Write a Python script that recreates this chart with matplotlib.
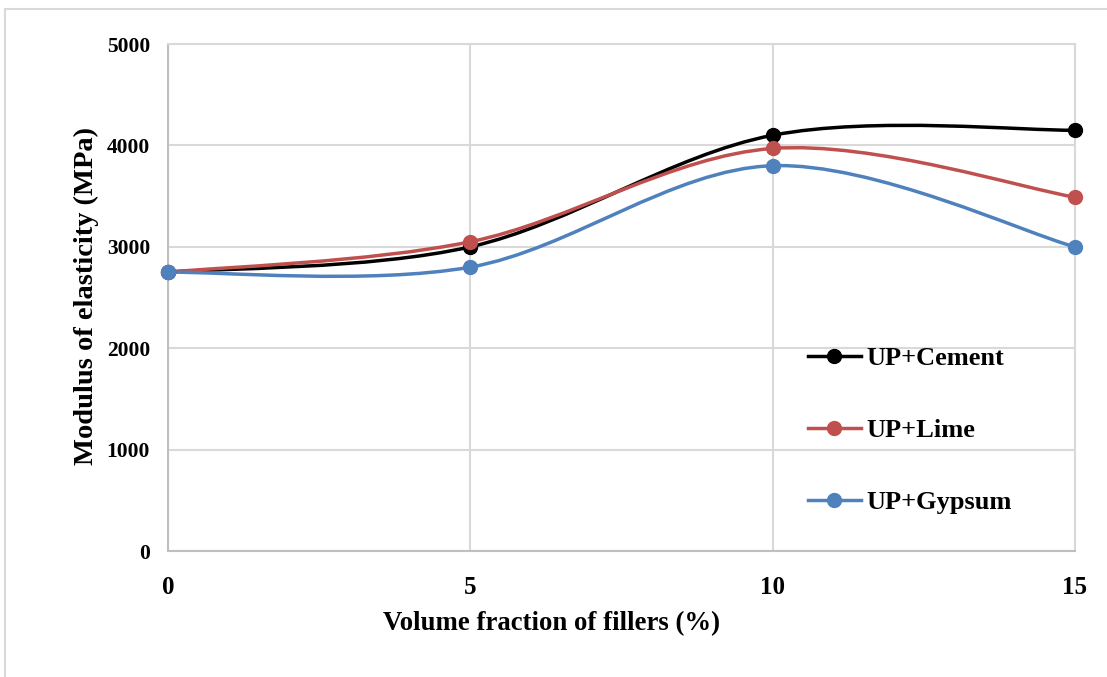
import numpy as np
import matplotlib.pyplot as plt
from matplotlib.path import Path
from matplotlib.patches import PathPatch, Rectangle
from matplotlib.lines import Line2D

# data
fraction = [0, 5, 10, 15]
cement = [2750, 3000, 4100, 4150]
lime = [2750, 3050, 3970, 3490]
gypsum = [2750, 2800, 3800, 3000]

labels = ['UP+Cement', 'UP+Lime', 'UP+Gypsum']
colors = ['#000000', '#C0504D', '#4F81BD']

plt.rcParams['font.family'] = 'Liberation Serif'
plt.rcParams['font.weight'] = 'bold'


def smooth_path(x, y):
    # Excel-like smoothed line: cubic bezier, control points at 1/6 of neighbour difference
    pts = np.column_stack([x, y]).astype(float)
    n = len(pts)
    verts = [pts[0]]
    codes = [Path.MOVETO]
    for i in range(n - 1):
        p0 = pts[max(i - 1, 0)]
        p1 = pts[i]
        p2 = pts[i + 1]
        p3 = pts[min(i + 2, n - 1)]
        c1 = p1 + (p2 - p0) / 6
        c2 = p2 - (p3 - p1) / 6
        verts += [c1, c2, p2]
        codes += [Path.CURVE4] * 3
    return Path(verts, codes)


fig = plt.figure(figsize=(11.07, 6.77), dpi=100)
ax = fig.add_axes([0.1518, 0.186, 0.8192, 0.749])

# outer chart border (only left/top visible)
fig.patches.append(Rectangle((5 / 1107, -0.1), 1.2, 1.1 - 9 / 677, transform=fig.transFigure,
                             fill=False, ec='#d9d9d9', lw=1.5))

handles = []
for ys, c, lab in zip([cement, lime, gypsum], colors, labels):
    ax.add_patch(PathPatch(smooth_path(fraction, ys), fill=False, ec=c, lw=2.5, zorder=3,
                           capstyle='round'))
    ax.plot(fraction, ys, 'o', color=c, ms=10, zorder=4, clip_on=False)
    handles.append(Line2D([], [], color=c, lw=2.5, marker='o', ms=10))

ax.set_xlim(0, 15)
ax.set_ylim(0, 5000)
ax.set_xticks([0, 5, 10, 15])
ax.set_yticks(range(0, 5001, 1000))
ax.grid(True, color='#d9d9d9', lw=1.5)
ax.set_axisbelow(True)
for s in ['top', 'right']:
    ax.spines[s].set_color('#d9d9d9')
for s in ['left', 'bottom']:
    ax.spines[s].set_color('#bfbfbf')
for s in ax.spines.values():
    s.set_linewidth(1.5)
ax.tick_params(axis='x', length=0, pad=18, labelsize=18)
ax.tick_params(axis='y', length=0, pad=13, labelsize=15.5)

fig.text(0.4986, 0.0783, 'Volume fraction of fillers (%)', fontsize=19.3, fontweight='bold',
         ha='center', va='center')
fig.text(0.0777, 0.5628, 'Modulus of elasticity (MPa)', fontsize=20.5, fontweight='bold',
         ha='center', va='center', rotation=90)

ax.legend(handles, labels, loc='center left', bbox_to_anchor=(0.7056, 0.2387), frameon=False,
          labelspacing=1.84, handlelength=2.0, handletextpad=0.23, borderpad=0,
          borderaxespad=0, prop={'weight': 'bold', 'size': 19})

fig.savefig('out.png', dpi=100)
